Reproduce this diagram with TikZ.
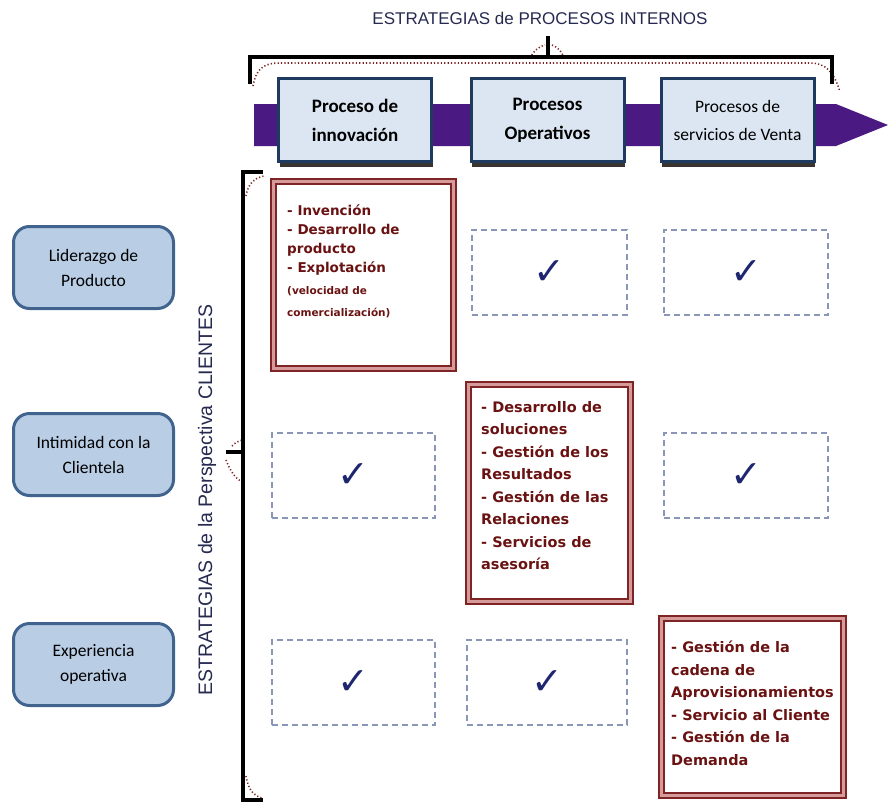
\documentclass[tikz,border=0pt]{standalone}
\usepackage{fontspec}
\setmainfont{Carlito}
\newfontfamily\handfont{DejaVu Sans}
\newfontfamily\capfont{Liberation Sans}
\newfontfamily\symfont{DejaVu Sans}

\definecolor{procfill}{HTML}{DCE6F2}
\definecolor{procline}{HTML}{1F3A5F}
\definecolor{shadowc}{HTML}{3A3430}
\definecolor{stratfill}{HTML}{B9CDE5}
\definecolor{stratline}{HTML}{41648F}
\definecolor{bandc}{HTML}{4A1A82}
\definecolor{redline}{HTML}{7E2424}
\definecolor{redband}{HTML}{D69A9A}
\definecolor{redtxt}{HTML}{6A1212}
\definecolor{dashc}{HTML}{8A96B8}
\definecolor{tickc}{HTML}{1F2670}
\definecolor{navy}{HTML}{262A50}

\tikzset{
  procbox/.style={draw=procline, line width=3, fill=procfill,
    minimum width=153, minimum height=83, align=center,
    font=\bfseries\fontsize{19}{29}\selectfont,
    preaction={fill=shadowc, transform canvas={xshift=1pt, yshift=-5pt}}},
  stratbox/.style={draw=stratline, line width=3, fill=stratfill,
    rounded corners=16, minimum width=160, minimum height=82,
    align=center, font=\fontsize{17.5}{25}\selectfont},
  chkbox/.style={draw=dashc, dash pattern=on 6pt off 4pt, line width=1.2,
    minimum height=85, text=tickc, font=\symfont\fontsize{38}{38}\selectfont},
  redbox/.style={draw=redline, double=redband, double distance=3.5,
    line width=1.5},
  redlist/.style={anchor=north west, inner sep=0, align=left, text=redtxt,
    font=\handfont\bfseries\fontsize{14.5}{22.5}\selectfont},
  brace/.style={line width=4, black},
  braceshade/.style={redline, line width=1.6, dash pattern=on 1.2pt off 2.2pt},
}

\begin{document}
\begin{tikzpicture}[x=1pt, y=-1pt]
\useasboundingbox (0,0) rectangle (888,806);

% heading
\node[text=navy, font=\capfont\fontsize{17}{18}\selectfont] (title) at (540,18)
  {ESTRATEGIAS de PROCESOS INTERNOS};

% top brace with its dotted shade
\draw[braceshade] (253,86) .. controls (256,70) and (262,63) .. (280,63)
  -- (810,63) .. controls (826,63) and (834,72) .. (840,92);
\draw[braceshade] (530,58) .. controls (534,50) and (540,46) .. (545,45);
\draw[braceshade] (552,45) .. controls (557,47) and (562,51) .. (564,58);
\draw[brace] (250,84) -- (250,57) -- (832,57) -- (832,84);
\draw[brace] (548,57) -- (548,36);

% process arrow band
\fill[bandc] (254,104) -- (836,104) -- (888,125) -- (836,146) -- (254,146) -- cycle;

% internal process boxes
\node[procbox] (p1) at (355,120) {Proceso de\\innovación};
\node[procbox] (p2) at (547.5,120) {Procesos\\Operativos};
\node[procbox, font=\fontsize{17.5}{28}\selectfont] (p3) at (737.5,120)
  {Procesos de\\servicios de Venta};

% customer strategies
\node[stratbox] (s1) at (93.5,267.5) {Liderazgo de\\Producto};
\node[stratbox] (s2) at (93.5,454.5) {Intimidad con la\\Clientela};
\node[stratbox] (s3) at (93.5,664.5) {Experiencia\\operativa};

% left brace with its dotted shade
\draw[braceshade] (246,196) .. controls (248,184) and (254,178) .. (264,176);
\draw[braceshade] (226,460) .. controls (230,470) and (234,477) .. (242,482);
\draw[braceshade] (232,446) .. controls (236,442) and (239,441) .. (242,440);
\draw[braceshade] (246,776) .. controls (248,788) and (252,795) .. (262,798);
\draw[brace] (263,172) -- (243,172) -- (243,800) -- (263,800);
\draw[brace] (243,452) -- (226,452);

\node[rotate=90, text=navy, font=\capfont\fontsize{19.5}{20}\selectfont] (side)
  at (207,500) {ESTRATEGIAS de la Perspectiva CLIENTES};

% matrix cells: detailed processes
\node[redbox, minimum width=180, minimum height=187] (c11) at (363.5,275) {};
\node[redlist, font=\handfont\bfseries\fontsize{13.5}{19.3}\selectfont] (t11) at (287,204)
  {- Invención\\- Desarrollo de\\producto\\- Explotación};
\node[redlist, font=\handfont\bfseries\fontsize{10.5}{22}\selectfont] (t11b) at (287,286)
  {(velocidad de\\comercialización)};

\node[redbox, minimum width=162, minimum height=217] (c22) at (549.5,493) {};
\node[redlist] (t22) at (481,401)
  {- Desarrollo de\\soluciones\\- Gestión de los\\Resultados\\- Gestión de las\\Relaciones\\- Servicios de\\asesoría};

\node[redbox, minimum width=182, minimum height=177] (c33) at (752.5,707) {};
\node[redlist] (t33) at (671,641)
  {- Gestión de la\\cadena de\\Aprovisionamientos\\- Servicio al Cliente\\- Gestión de la\\Demanda};

% matrix cells: supporting processes
\node[chkbox, minimum width=155] (c12) at (549.5,272.5) {✓};
\node[chkbox, minimum width=164] (c13) at (746,272.5) {✓};
\node[chkbox, minimum width=163] (c21) at (353.5,475.5) {✓};
\node[chkbox, minimum width=164] (c23) at (746,475.5) {✓};
\node[chkbox, minimum width=163] (c31) at (353.5,682.5) {✓};
\node[chkbox, minimum width=160] (c32) at (547,682.5) {✓};
\end{tikzpicture}
\end{document}
